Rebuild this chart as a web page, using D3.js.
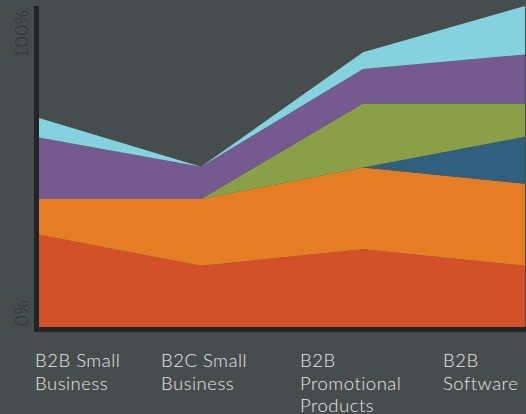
<!DOCTYPE html>
<html>
<head>
<meta charset="utf-8">
<script src="https://cdnjs.cloudflare.com/ajax/libs/d3/7.8.5/d3.min.js"></script>
<style>
  html, body { margin: 0; padding: 0; background: #474d4d; }
  svg { display: block; }
  .cat-label { font-family: Lato, sans-serif; font-weight: 300; font-size: 18.5px; letter-spacing: 0.5px; fill: #e4e6e6; }
  .y-label { font-family: Lato, sans-serif; font-weight: 300; font-size: 18.5px; letter-spacing: 0.8px; fill: #2d3232; }
</style>
</head>
<body>
<svg id="chart"></svg>
<script>
	// categories (x axis)
	var categories = ["B2B Small Business", "B2C Small Business", "B2B Promotional Products", "B2B Software"];
	// label lines as drawn under the axis
	var categoryLines = [["B2B Small", "Business"], ["B2C Small", "Business"], ["B2B", "Promotional", "Products"], ["B2B", "Software"]];

	// series values, bottom to top (percent)
	var layerKeys = ["red", "orange", "blue", "green", "purple", "cyan"];
	var redValues    = [28.7, 19.1, 24.2, 19.1];
	var orangeValues = [11.2, 20.8, 25.5, 25.5];
	var blueValues   = [0, 0, 0, 14.7];
	var greenValues  = [0, 0, 19.9, 10.3];
	var purpleValues = [19.1, 10.0, 10.8, 15.3];
	var cyanValues   = [6.1, 0, 5.2, 15.1];

	// y tick labels
	var yTicks = [0, 100];
	var yTickText = ["0%", "100%"];

	var colors = {
		red: "#d35129",
		orange: "#e47d23",
		blue: "#30607e",
		green: "#8aa048",
		purple: "#745a8f",
		cyan: "#84d2dd"
	};

	var svgWidth = 526;
	var svgHeight = 414;
	var plotLeft = 39;
	var plotRight = 525;
	var plotBottom = 327;
	var plotTop = 6;
	var axisWidth = 5;

	var seriesByKey = {
		red: redValues, orange: orangeValues, blue: blueValues,
		green: greenValues, purple: purpleValues, cyan: cyanValues
	};

	// table for d3.stack
	var table = categories.map(function(c, i) {
		var row = { category: c };
		layerKeys.forEach(function(k) { row[k] = seriesByKey[k][i]; });
		return row;
	});

	var svg = d3.select("#chart")
		.attr("width", svgWidth)
		.attr("height", svgHeight);

	var xScale = d3.scalePoint()
		.domain(categories)
		.range([plotLeft, plotRight]);

	var yScale = d3.scaleLinear()
		.domain([0, 100])
		.range([plotBottom, plotTop]);

	var stacked = d3.stack().keys(layerKeys)(table);

	var area = d3.area()
		.x(function(d) { return xScale(d.data.category); })
		.y0(function(d) { return yScale(d[0]); })
		.y1(function(d) { return yScale(d[1]); });

	svg.append("g")
		.selectAll("path")
		.data(stacked)
		.enter()
		.append("path")
		.attr("d", area)
		.attr("fill", function(d) { return colors[d.key]; });

	// axis lines (L shape)
	var axisColor = "#212526";
	svg.append("rect")
		.attr("x", plotLeft - axisWidth)
		.attr("y", plotTop)
		.attr("width", axisWidth)
		.attr("height", plotBottom - plotTop + axisWidth)
		.attr("fill", axisColor);
	svg.append("rect")
		.attr("x", plotLeft - axisWidth)
		.attr("y", plotBottom)
		.attr("width", plotRight - plotLeft + axisWidth + 1)
		.attr("height", axisWidth)
		.attr("fill", axisColor);

	// y labels, rotated
	svg.selectAll(".y-label")
		.data(yTicks)
		.enter()
		.append("text")
		.attr("class", "y-label")
		.attr("transform", function(d) {
			var y = d === 0 ? yScale(d) - 1 : yScale(d) + 3;
			return "translate(28," + y + ") rotate(-90)";
		})
		.attr("text-anchor", function(d) { return d === 0 ? "start" : "end"; })
		.text(function(d, i) { return yTickText[i]; });

	// category labels: column starts under the axis
	var labelX = d3.scaleLinear()
		.domain([0, 1, 2, 3])
		.range([35, 161, 300, 443]);

	var labels = svg.selectAll(".cat-label")
		.data(categoryLines)
		.enter()
		.append("text")
		.attr("class", "cat-label")
		.attr("x", function(d, i) { return labelX(i); })
		.attr("y", 367);

	labels.selectAll("tspan")
		.data(function(d, i) { return d.map(function(t) { return { t: t, i: i }; }); })
		.enter()
		.append("tspan")
		.attr("x", function(d) { return labelX(d.i); })
		.attr("dy", function(d, j) { return j === 0 ? 0 : 22.5; })
		.text(function(d) { return d.t; });
</script>
</body>
</html>
